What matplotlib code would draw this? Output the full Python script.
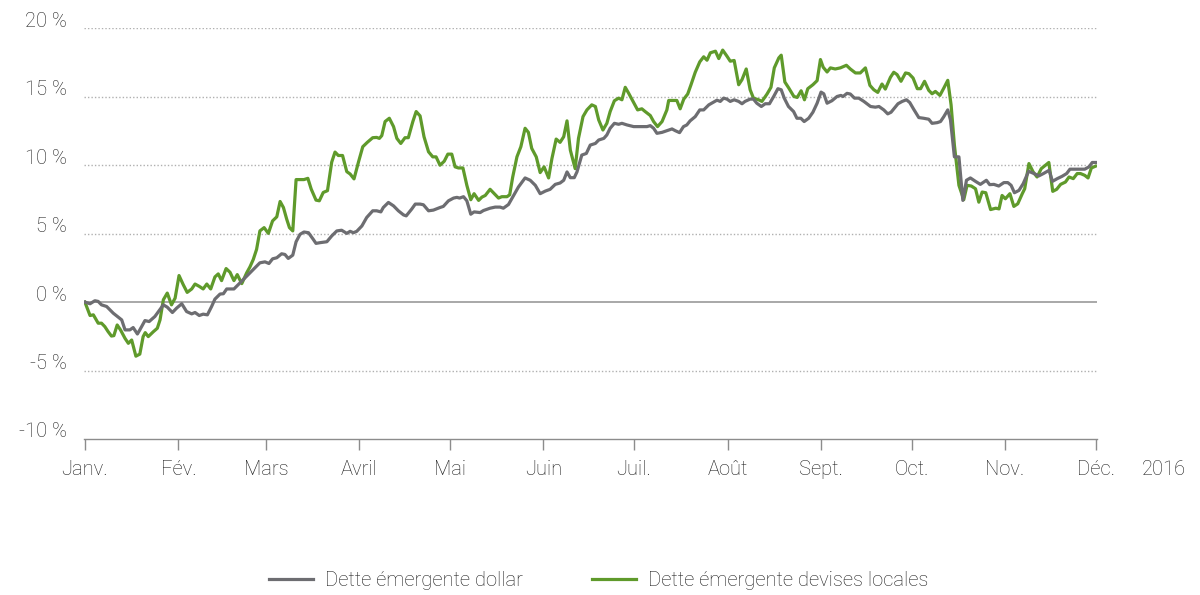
import matplotlib
matplotlib.use("Agg")
import matplotlib.pyplot as plt
import matplotlib.dates as mdates
from matplotlib.transforms import ScaledTranslation
from matplotlib.lines import Line2D
import pandas as pd

# ---- data (days since 1 Jan 2016, performance in %) ----
dollar_days = [0, 1.7, 3.3, 4.4, 5.5, 7.2, 9.4, 12.2, 13.3, 14.9, 16.0, 17.4, 18.2, 19.9, 21.3, 23.2,
               26.0, 27.3, 29.0, 30.4, 32.1, 33.7, 35.4, 36.5, 37.9, 39.2, 40.6, 42.0, 43.1, 44.8, 45.9,
               47.0, 49.4, 51.4, 53.6, 55.8, 58.0, 59.7, 61.0, 62.2, 63.6, 65.2, 66.3, 67.4, 68.9, 70.0,
               71.3, 72.6, 74.1, 75.7, 76.6, 77.9, 80.2, 81.8, 83.5, 85.1, 86.8, 87.9, 89.0, 90.1, 91.8,
               93.4, 95.4, 96.7, 98.1, 98.9, 100.6, 102.3, 103.9, 105.6, 106.5, 108.3, 109.5, 111.1,
               112.2, 113.9, 115.5, 117.7, 118.8, 120.5, 122.2, 123.3, 124.2, 125.5, 126.6, 127.9,
               129.0, 131.0,
               132.1, 134.3, 136.0, 137.6, 138.7, 140.4, 142.1, 143.7, 145.9, 147.6, 149.3, 150.9,
               152.6, 154.2, 155.9, 157.5, 158.7, 159.8, 160.9, 162.2, 163.1, 164.7, 166.2, 167.5,
               169.2, 170.3, 172.0, 173.0, 174.1, 175.5, 176.9, 178.0, 179.7, 181.9, 184.1, 186.3,
               187.4, 188.5, 189.6, 191.3, 192.9, 194.6, 195.7, 197.1, 198.4, 199.5, 200.6, 202.3,
               203.8, 205.1, 206.8, 208.4, 209.5, 210.6, 211.7, 212.8, 213.9, 215.2, 216.7, 217.8,
               218.8, 220.5, 221.6, 222.7, 224.2, 225.5, 226.9, 228.3, 229.7, 230.8, 231.8, 233.2,
               234.9, 236.0, 237.3, 238.4, 239.9, 241.3, 242.7, 244.0, 244.9, 246.0, 247.1,
               247.6, 249.3, 250.6, 251.3, 252.6, 253.7, 255.1, 256.5, 258.2, 260.4, 262.0, 263.2,
               264.8, 266.1, 267.2, 268.3, 269.5, 270.9, 272.3, 273.4, 274.7, 276.4, 278.0, 279.7,
               280.8, 282.5, 283.6, 284.7, 286.0, 286.9, 288.2, 289.7, 291.0, 292.2, 293.5, 295.2,
               296.8, 298.8, 299.9, 301.3, 302.9, 304.6, 305.9, 307.0, 308.1, 309.6, 311.0, 312.8,
               314.6, 316.2, 317.7, 319.6, 320.7, 322.3, 323.9, 325.4, 326.5, 328.9, 331.4, 332.8,
               333.9, 335.3]
dollar_vals = [0.00, -0.12, 0.10, 0.05, -0.20, -0.32, -0.81, -1.30, -2.03, -2.03, -1.86, -2.33, -2.03,
               -1.35, -1.42, -1.05, -0.20, -0.37, -0.76, -0.44, -0.12, -0.69, -0.86, -0.76, -0.98,
               -0.88, -0.93, -0.32, 0.22, 0.59, 0.61, 0.96, 0.96, 1.40, 1.89, 2.38, 2.87, 2.94, 2.82,
               3.16, 3.24, 3.53, 3.48, 3.19, 3.43, 4.41, 4.95, 5.12, 5.07, 4.58, 4.29, 4.34, 4.41,
               4.83, 5.20, 5.25, 5.02, 5.17, 5.07, 5.17, 5.56, 6.18, 6.67, 6.67, 6.59, 6.91, 7.28,
               7.03, 6.67, 6.37, 6.30, 6.79, 7.16, 7.16, 7.11, 6.67, 6.72, 6.91, 6.99, 7.40, 7.60,
               7.65, 7.60, 7.70, 7.40, 6.42, 6.59, 6.54,
               6.69, 6.86, 6.94, 6.94, 6.86, 7.13, 7.79, 8.41, 9.07, 8.90, 8.53, 7.92, 8.11, 8.24,
               8.60, 8.70, 8.90, 9.51, 9.09, 9.09, 9.51, 10.74, 10.86, 11.47, 11.59, 11.84, 11.96,
               12.21, 12.70, 13.06, 12.99, 13.06, 12.94, 12.82, 12.82, 12.82, 12.89, 12.70, 12.33,
               12.40, 12.52, 12.65, 12.52, 12.38, 12.82, 12.94, 13.24, 13.55, 14.04, 14.04, 14.41,
               14.61, 14.75, 14.66, 14.90, 14.83, 14.66, 14.78, 14.66, 14.49, 14.66, 14.83, 14.83,
               14.53, 14.29, 14.49, 14.49, 15.02, 15.59, 15.51, 14.90, 14.29, 13.92, 13.43, 13.43,
               13.19, 13.43, 13.87, 14.53, 15.34, 15.22, 14.53, 14.66,
               14.71, 15.02, 15.10, 15.02, 15.25, 15.20, 14.90, 14.90, 14.66, 14.29, 14.24, 14.29,
               14.04, 13.75, 13.87, 14.17, 14.49, 14.66, 14.78, 14.58, 14.09, 13.48, 13.43, 13.36,
               13.06, 13.11, 13.19, 13.55, 14.04, 13.31, 10.61, 10.61, 7.43, 8.90, 9.07, 8.82,
               8.60, 8.90, 8.58, 8.60, 8.48, 8.73, 8.73, 8.53, 7.99, 8.16, 8.65, 9.56, 9.39, 9.22,
               9.39, 9.63, 8.82, 9.02, 9.19, 9.39, 9.71, 9.71, 9.71, 9.88, 10.20, 10.20]

local_days = [0, 1.7, 2.8, 4.4, 5.5, 6.6, 7.7, 8.8, 9.6, 10.7, 11.8, 13.3, 14.4, 15.5, 16.9, 18.2,
              19.3, 20.0, 21.0, 22.7, 24.0, 24.9, 26.0, 27.3, 28.7, 29.9, 31.2, 32.6, 33.9, 35.4,
              36.5, 37.9, 39.2, 40.4, 41.7, 43.1, 44.2, 45.3, 46.8, 48.1, 49.4, 50.5, 52.0, 53.6,
              54.7, 55.8, 56.9, 58.0, 59.4, 60.8, 62.2, 63.6, 64.7, 65.8, 66.9, 67.8, 68.9, 70.0,
              71.3, 72.6, 73.9, 75.0, 76.6, 77.7, 79.0, 80.4, 81.8, 82.9, 84.0, 85.4, 86.8, 87.9,
              89.2, 90.7, 92.1, 93.6, 95.4, 96.7, 97.6, 98.4, 99.5, 100.9, 102.3, 103.4, 104.7,
              106.1, 107.2, 108.7, 109.8, 111.1, 112.4, 113.9, 115.3, 116.4, 117.7, 119.1, 120.3,
              121.6, 122.7, 123.8, 125.3, 126.6, 127.9, 129.0, 130.5,
              131.6, 132.7, 134.3, 135.7, 137.1, 138.2, 139.9, 140.8, 141.8, 143.2, 144.5, 145.9,
              147.0, 148.1, 149.6, 150.9, 152.2, 153.7, 154.8, 156.2, 157.5, 158.7, 159.8, 160.9,
              162.5, 163.6, 165.1, 166.4, 168.0, 169.2, 170.3, 171.7, 173.0, 174.1, 175.5, 176.9,
              178.0, 179.1, 180.2, 181.9, 183.2, 184.6, 185.7, 187.4, 188.5, 189.8, 191.3, 192.9,
              193.5, 194.6, 196.2, 197.3, 198.5, 199.8, 200.9, 202.3, 203.8, 205.1, 206.2, 207.3,
              209.0, 210.1, 211.4, 212.8, 213.9, 215.2, 216.7, 217.8, 219.2, 220.5, 221.6, 223.3,
              224.4, 226.1, 227.4, 228.5, 230.0, 230.8, 232.0, 233.3, 235.0, 236.1, 237.4, 238.5,
              239.6, 241.3, 242.7, 243.8, 244.7, 246.0, 247.1,
              248.7, 250.4, 252.4, 253.7, 255.4, 257.0, 258.7, 260.2, 261.5, 262.8, 264.2, 265.3,
              267.0, 268.1, 269.2, 270.5, 272.0, 273.1, 274.5, 275.9, 277.0, 278.3, 279.7, 280.8,
              281.9, 283.4, 284.7, 286.0, 287.1, 288.2, 289.7, 291.3, 292.4, 293.8, 295.2, 296.3,
              297.4, 298.6, 300.2, 301.9, 303.0, 304.0, 305.1, 306.6, 307.9, 309.2, 310.7, 311.5,
              312.9, 314.3, 315.6, 317.0, 319.5, 320.8, 322.1, 323.4, 325.0, 326.2, 327.6, 328.9,
              330.0, 331.4, 332.5, 333.6, 335.0]
local_vals = [0.00, -0.98, -0.93, -1.54, -1.54, -1.79, -2.16, -2.48, -2.45, -1.67, -2.03, -2.65, -3.01,
              -2.77, -3.95, -3.80, -2.52, -2.23, -2.52, -2.16, -1.91, -1.30, 0.17, 0.66, -0.20, 0.29,
              1.94, 1.27, 0.71, 0.96, 1.32, 1.15, 0.96, 1.32, 0.96, 1.84, 2.06, 1.57, 2.45, 2.18,
              1.57, 2.01, 1.35, 2.13, 2.57, 3.11, 3.85, 5.20, 5.44, 5.02, 5.93, 6.23, 7.35, 6.91,
              6.05, 5.44, 5.20, 8.95, 8.95, 8.95, 9.04, 8.26, 7.45, 7.40, 8.01, 8.14, 10.22, 10.96,
              10.71, 10.71, 9.53, 9.36, 9.00, 10.25, 11.35, 11.67, 12.01, 12.03, 11.96, 12.16, 13.19,
              13.43, 12.82, 11.96, 11.59, 12.01, 12.01, 13.19, 13.92, 13.60, 12.08, 10.98, 10.61,
              10.61, 10.00, 10.29, 10.81, 10.81, 9.88, 9.80, 9.80, 8.53, 7.48, 7.92, 7.43,
              7.67, 7.79, 8.24, 7.92, 7.60, 7.70, 7.70, 7.84, 9.14, 10.61, 11.35, 12.70, 12.40,
              11.23, 10.61, 9.46, 9.88, 9.07, 10.49, 11.91, 11.67, 12.08, 13.24, 11.10, 9.75, 11.96,
              13.55, 14.04, 14.41, 14.29, 13.31, 12.57, 13.06, 13.92, 14.71, 14.90, 14.78, 15.69,
              15.27, 14.58, 14.04, 14.12, 13.92, 13.63, 13.19, 12.82, 13.19, 14.04, 14.73, 14.73,
              14.73, 14.12, 14.83, 15.20, 15.88, 16.79, 17.55, 17.92, 17.67, 18.21, 18.33, 17.79,
              18.41, 17.97, 17.60, 17.65, 15.88, 16.25, 17.03, 15.51, 14.90, 14.78, 14.66, 15.20,
              15.69, 17.11, 17.84, 18.04, 16.08, 15.64, 15.02, 14.95, 15.44, 14.78, 15.59, 15.88,
              16.18, 17.72, 17.16, 16.81, 17.11,
              17.03, 17.11, 17.30, 17.03, 16.74, 16.74, 17.11, 15.83, 15.51, 15.32, 15.93, 15.56,
              16.42, 16.79, 16.62, 16.13, 16.74, 16.69, 16.37, 15.59, 15.59, 16.13, 15.47, 15.22,
              15.39, 15.10, 15.64, 16.20, 14.41, 11.47, 8.53, 7.48, 8.53, 8.48, 8.28, 7.30, 8.04,
              7.99, 6.76, 6.86, 6.81, 7.79, 7.55, 7.92, 6.99, 7.18, 7.92, 8.28, 10.12, 9.51, 9.14,
              9.75, 10.20, 8.09, 8.24, 8.60, 8.77, 9.14, 9.02, 9.39, 9.39, 9.26, 9.07, 9.80, 9.93]

month_labels = ["Janv.", "Fév.", "Mars", "Avril", "Mai", "Juin", "Juil.", "Août",
                "Sept.", "Oct.", "Nov.", "Déc."]
year_label = "2016"
y_ticks = [-10, -5, 0, 5, 10, 15, 20]
series_names = ["Dette émergente dollar", "Dette émergente devises locales"]

# ---- styling ----
GRAY = "#6d6d71"
GREEN = "#5f9a2b"
TEXT = "#1e1e1e"
AXIS = "#8c8c8c"

plt.rcParams["font.family"] = ["Roboto", "DejaVu Sans"]
plt.rcParams["font.weight"] = "light"

start = pd.Timestamp("2016-01-01")
dollar_x = start + pd.to_timedelta(dollar_days, unit="D")
local_x = start + pd.to_timedelta(local_days, unit="D")
month_x = pd.date_range("2016-01-01", periods=12, freq="MS")

fig = plt.figure(figsize=(12, 5.95), dpi=100)
ax = fig.add_axes([0.07, 0.2622, 0.844, 0.6902])

for y in y_ticks:
    if y == 0:
        ax.axhline(0, color="#9a9a9a", lw=1.2, zorder=1)
    elif y > -10:
        ax.axhline(y, color="#b0b0b0", lw=1.0, ls=(0, (1, 1.5)), zorder=1)

ax.plot(local_x, local_vals, color=GREEN, lw=2.3, zorder=3, solid_joinstyle="round")
ax.plot(dollar_x, dollar_vals, color=GRAY, lw=2.3, zorder=4, solid_joinstyle="round")

ax.set_ylim(-10, 20)
ax.set_xlim(start - pd.Timedelta(days=0.3), month_x[-1] + pd.Timedelta(days=0.4))

for s in ["top", "right", "left"]:
    ax.spines[s].set_visible(False)
ax.spines["bottom"].set_color(AXIS)
ax.spines["bottom"].set_linewidth(1.0)

ax.set_xticks(month_x)
ax.set_xticklabels(month_labels)
ax.tick_params(axis="x", direction="out", length=8, width=1.0, color=AXIS,
               labelsize=14.5, labelcolor=TEXT, pad=7)

ax.set_yticks(y_ticks)
ax.set_yticklabels([f"{v} %" for v in y_ticks])
ax.tick_params(axis="y", length=0, labelsize=14.5, labelcolor=TEXT, pad=12)
off = ScaledTranslation(0, 9 / 100, fig.dpi_scale_trans)
for lab in ax.get_yticklabels():
    lab.set_transform(lab.get_transform() + off)

ax.annotate(year_label, xy=(1.0, 0.0), xycoords="axes fraction",
            xytext=(67 * 0.72, -31 * 0.72), textcoords="offset points",
            ha="center", va="center", fontsize=14.5, color=TEXT)

handles = [Line2D([], [], color=GRAY, lw=2.3), Line2D([], [], color=GREEN, lw=2.3)]
fig.legend(handles, series_names, loc="center", bbox_to_anchor=(0.499, 0.025), ncol=2,
           frameon=False, fontsize=14.5, handlelength=2.2, handletextpad=0.6,
           columnspacing=3.4, labelcolor=TEXT)

fig.savefig("out.png", dpi=100)
